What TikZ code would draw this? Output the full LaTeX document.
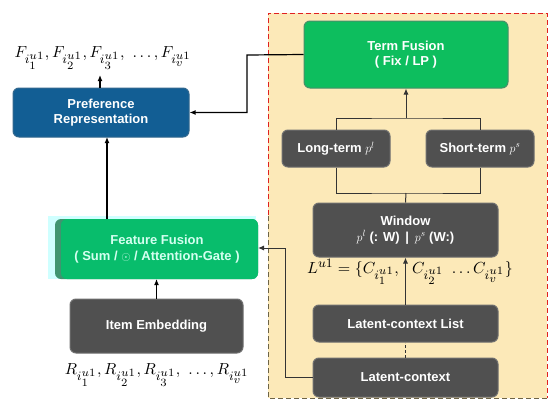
\documentclass[tikz,border=0pt]{standalone}
\usepackage{graphicx}
\usepackage{fontspec}
\newfontfamily\boxfont{Liberation Sans}
\DeclareMathSizes{10}{10}{8}{7}
\usetikzlibrary{arrows.meta}
\definecolor{panel}{HTML}{FCE9B8}
\definecolor{gbox}{HTML}{505050}
\definecolor{gedge}{HTML}{707070}
\definecolor{tgreen}{HTML}{0DBE5E}
\definecolor{fgreen}{HTML}{08BD6C}
\definecolor{fdark}{HTML}{3F9570}
\definecolor{ftext}{HTML}{D4FFF0}
\definecolor{pblue}{HTML}{125E94}
\definecolor{glow}{HTML}{CFFFFF}
\definecolor{dred}{HTML}{E02020}
\definecolor{dolive}{HTML}{6E6446}
\newcommand{\bigmath}[1]{\scalebox{1.6}{\fontsize{10}{12}\selectfont$#1$}}
\tikzset{
  box/.style={rectangle, rounded corners=6pt, draw=gedge, line width=1pt, fill=gbox,
    text=white, font=\boxfont\bfseries\fontsize{13}{15.5}\selectfont, align=center, inner sep=2pt},
  conn/.style={line width=1.2pt, draw=black},
  thin/.style={line width=1pt, draw=black!80},
  arr/.style={-{Latex[length=6pt,width=5pt]}},
  mathtxt/.style={inner sep=0pt}
}
\begin{document}
\begin{tikzpicture}[x=1pt,y=-1pt]
\useasboundingbox (0,0) rectangle (550,410);
\fill[white] (0,0) rectangle (550,410);
% panel
\fill[panel] (268,13) rectangle (547,398);
\draw[dred, dashed, line width=1pt, dash pattern=on 5pt off 3pt] (268,215) -- (268,13) -- (547,13) -- (547,398);
\draw[dolive, dashed, line width=1pt, dash pattern=on 5pt off 3pt] (547,398) -- (268,398) -- (268,215);
% right panel boxes
\node[box, draw=gedge!60!tgreen, fill=tgreen, minimum width=204pt, minimum height=67pt] (term) at (406,54.5) {Term Fusion\\( Fix / LP )};
\node[box, minimum width=108pt, minimum height=37pt] (long) at (336,148.5) {Long-term $p^l$};
\node[box, minimum width=108pt, minimum height=37pt] (short) at (480,148.5) {Short-term $p^s$};
\node[box, minimum width=185pt, minimum height=54pt] (window) at (405.5,230) {Window\\$p^l$ (: W) \,|\, $p^s$ (W:)};
\node[box, minimum width=185pt, minimum height=37pt] (list) at (405.5,323.5) {Latent-context List};
\node[box, minimum width=185pt, minimum height=39pt] (latent) at (405.5,377.5) {Latent-context};
\node[mathtxt] (ltext) at (410,272) {\bigmath{L^{u1}=\{C_{i_1^{u1}},\ \ C_{i_2^{u1}}\ \ldots C_{i_v^{u1}}\}}};
% left boxes
\node[box, draw=pblue!70!gray, fill=pblue, minimum width=176pt, minimum height=49pt] (pref) at (101,112.5) {Preference\\Representation};
\fill[glow] (48,216) rectangle (256,279);
\fill[fdark, rounded corners=6pt] (55,219) rectangle (258,279);
\node[box, draw=none, fill=fgreen, text=ftext, minimum width=197pt, minimum height=60pt] (feat) at (159.5,249) {};
\node[font=\boxfont\bfseries\fontsize{13}{15.5}\selectfont, text=ftext, align=center] (feattext) at (157,249) {Feature Fusion\\( Sum / $\odot$ / Attention-Gate )};
\node[box, minimum width=173pt, minimum height=54pt] (item) at (156.5,326) {Item Embedding};
\node[mathtxt] (ftxt) at (103,58) {\bigmath{F_{i_1^{u1}}, F_{i_2^{u1}}, F_{i_3^{u1}},\ \ldots, F_{i_v^{u1}}}};
\node[mathtxt] (rtxt) at (157,375) {\bigmath{R_{i_1^{u1}}, R_{i_2^{u1}}, R_{i_3^{u1}},\ \ldots, R_{i_v^{u1}}}};
% junctions
\coordinate (jtop) at (406,118);
\coordinate (jbot) at (406,193);
\coordinate (prefup) at (100,75);
% connectors inside panel
\draw[thin] (long.north) |- (jtop) -| (short.north);
\draw[thin, arr] (jtop) -- (term.south);
\draw[thin] (long.south) |- (jbot) -| (short.south);
\draw[thin] (jbot) -- (window.north);
\draw[thin, arr] (list.north) -- (window.south);
\draw[thin, dashed, dash pattern=on 3pt off 2pt] (latent.north) -- (list.south);
\draw[thin, arr] (latent.west) -- (285,377.5) |- (258,248);
% left connectors
\draw[conn, arr] (term.west) -- (247,55) |- (pref.east);
\draw[conn, arr] (item.north) -- (156.5,279);
\draw[conn, arr] (107,219) -- (107,137);
\draw[conn, arr] (100,88) -- (prefup);
\end{tikzpicture}
\end{document}
